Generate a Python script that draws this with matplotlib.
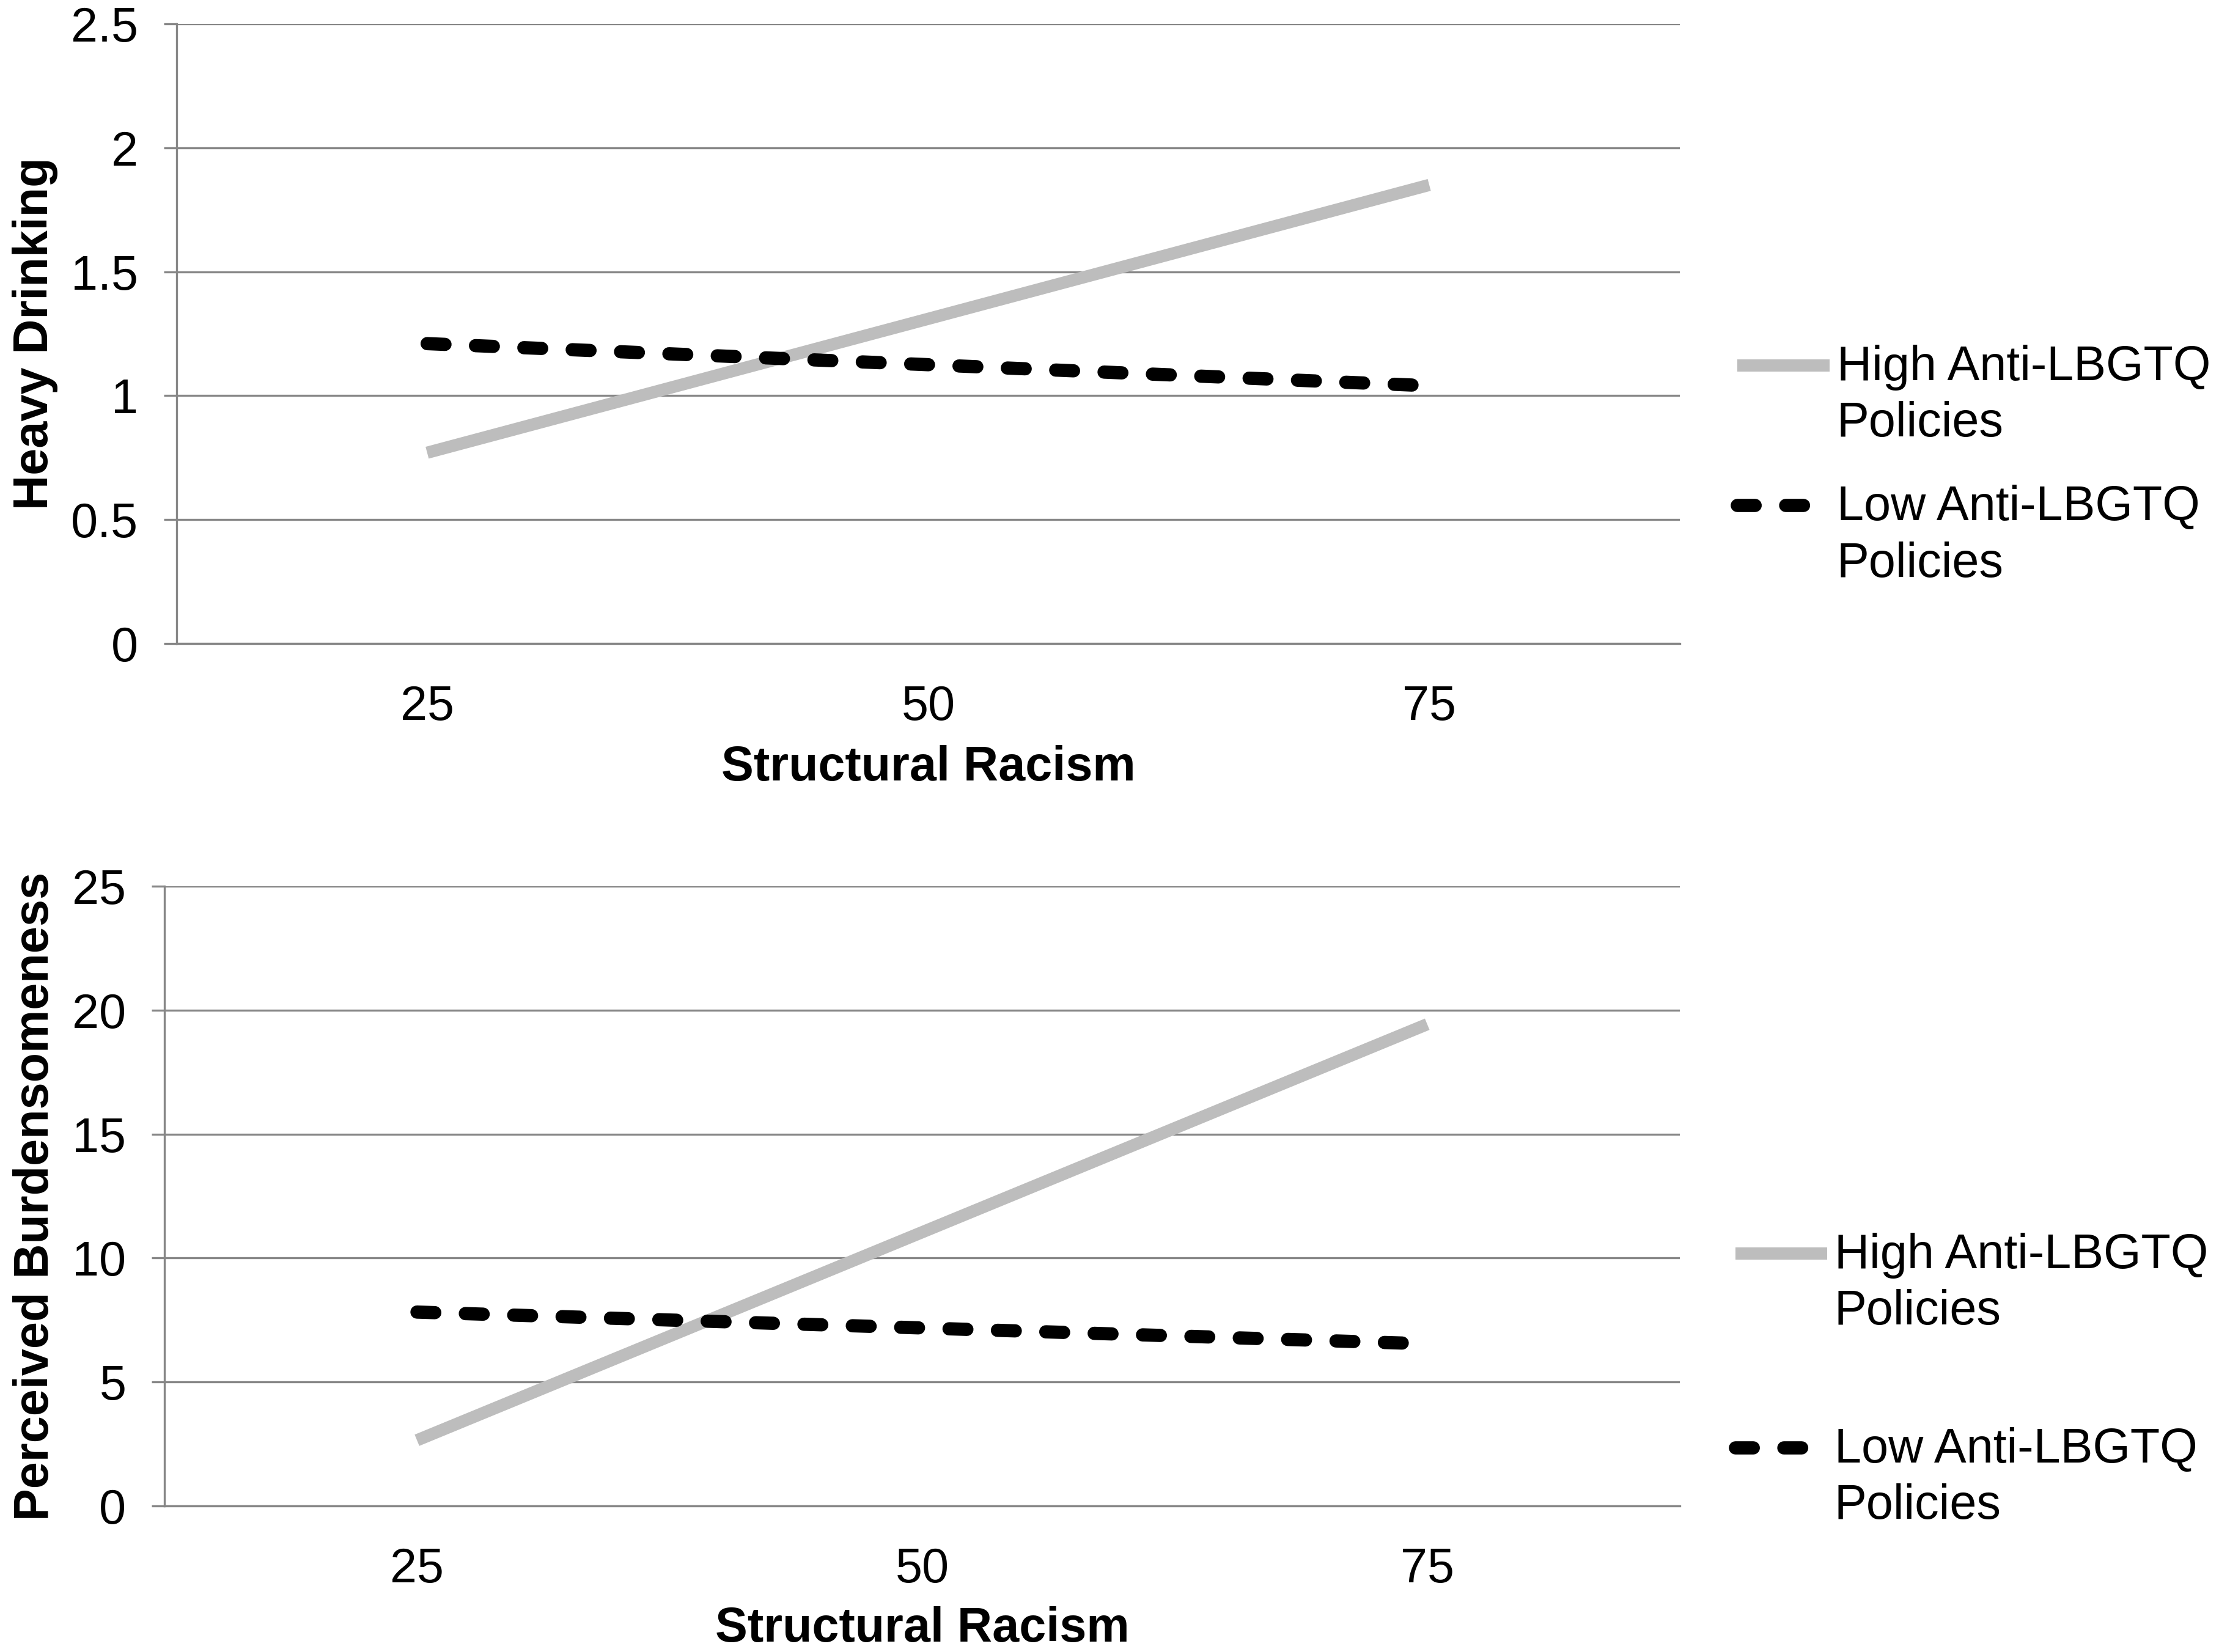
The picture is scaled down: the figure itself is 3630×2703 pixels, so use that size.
import matplotlib
matplotlib.use("Agg")
import matplotlib.pyplot as plt
from matplotlib.legend_handler import HandlerLine2D
import numpy as np

plt.rcParams['font.family'] = ['Liberation Sans', 'DejaVu Sans']
plt.rcParams['lines.scale_dashes'] = False

# ---- data ----
categories = ["25", "50", "75"]
series_names = ["High Anti-LBGTQ\nPolicies", "Low Anti-LBGTQ\nPolicies"]
drinking_high = [0.77, 1.31, 1.85]
drinking_low = [1.21, 1.125, 1.04]
burden_high = [2.65, 11.04, 19.43]
burden_low = [7.82, 7.18, 6.54]
top_ylabel = "Heavy Drinking"
bottom_ylabel = "Perceived Burdensomeness"
xlabel = "Structural Racism"
top_yticks = [0, 0.5, 1, 1.5, 2, 2.5]
top_yticklabels = ["0", "0.5", "1", "1.5", "2", "2.5"]
bottom_yticks = [0, 5, 10, 15, 20, 25]
bottom_yticklabels = ["0", "5", "10", "15", "20", "25"]

GRID = "#878787"
HIGH_C = "#BDBDBD"
LOW_C = "#000000"
FS = 19


class ShiftedHandler(HandlerLine2D):
    """Align legend handle with the first line of a two-line label."""
    def __init__(self, shift, **kw):
        super().__init__(**kw)
        self.shift = shift

    def create_artists(self, legend, orig_handle, xdescent, ydescent,
                       width, height, fontsize, trans):
        arts = super().create_artists(legend, orig_handle, xdescent, ydescent,
                                      width, height, fontsize, trans)
        for a in arts:
            a.set_ydata(np.asarray(a.get_ydata()) + self.shift * fontsize)
        return arts


fig = plt.figure(figsize=(12.1, 9.01), dpi=300)

panels = [
    dict(rect=[0.0796, 0.6104, 0.6774, 0.3752], high=drinking_high, low=drinking_low,
         ylim=(0, 2.5), yt=top_yticks, ytl=top_yticklabels, ylabel=top_ylabel,
         ylx=-0.094, xly=-0.201, leg=(0.783, 0.718), lsp=0.78),
    dict(rect=[0.0741, 0.0884, 0.6829, 0.3752], high=burden_high, low=burden_low,
         ylim=(0, 25), yt=bottom_yticks, ytl=bottom_yticklabels, ylabel=bottom_ylabel,
         ylx=-0.085, xly=-0.199, leg=(0.782, 0.164), lsp=1.9),
]

for p in panels:
    ax = fig.add_axes(p["rect"])
    x = np.arange(len(categories))
    l1, = ax.plot(x, p["high"], color=HIGH_C, lw=4.8, solid_capstyle='butt',
                  label=series_names[0], zorder=3)
    l2, = ax.plot(x, p["low"], color=LOW_C, lw=5.2, dash_capstyle='round',
                  linestyle=(0, (7.0, 12.0)), label=series_names[1], zorder=4)
    ax.set_xlim(-0.5, len(categories) - 0.5)
    ax.set_ylim(*p["ylim"])
    ax.set_xticks(x)
    ax.set_xticklabels(categories, fontsize=FS)
    ax.set_yticks(p["yt"])
    ax.set_yticklabels(p["ytl"], fontsize=FS)
    ax.tick_params(axis='x', length=0, pad=16)
    ax.tick_params(axis='y', length=5, width=0.8, color=GRID, pad=10)
    ax.yaxis.grid(True, color=GRID, lw=0.8)
    ax.set_axisbelow(True)
    for s in ["top", "right"]:
        ax.spines[s].set_visible(False)
    for s in ["left", "bottom"]:
        ax.spines[s].set_color(GRID)
        ax.spines[s].set_linewidth(0.8)
    ax.set_ylabel(p["ylabel"], fontsize=FS, fontweight='bold', va='center')
    ax.yaxis.set_label_coords(p["ylx"], 0.5)
    ax.set_xlabel(xlabel, fontsize=FS, fontweight='bold', va='center')
    ax.xaxis.set_label_coords(0.5, p["xly"])
    leg = fig.legend(handles=[l1, l2], loc='center left', bbox_to_anchor=p["leg"],
                     frameon=False, fontsize=FS, handlelength=1.9, handletextpad=0.15,
                     labelspacing=p["lsp"], borderpad=0, borderaxespad=0,
                     handler_map={l1: ShiftedHandler(0.64), l2: ShiftedHandler(0.64)})
    for t in leg.get_texts():
        t.set_linespacing(1.3)

fig.savefig("out.png", dpi=300, facecolor="white")
